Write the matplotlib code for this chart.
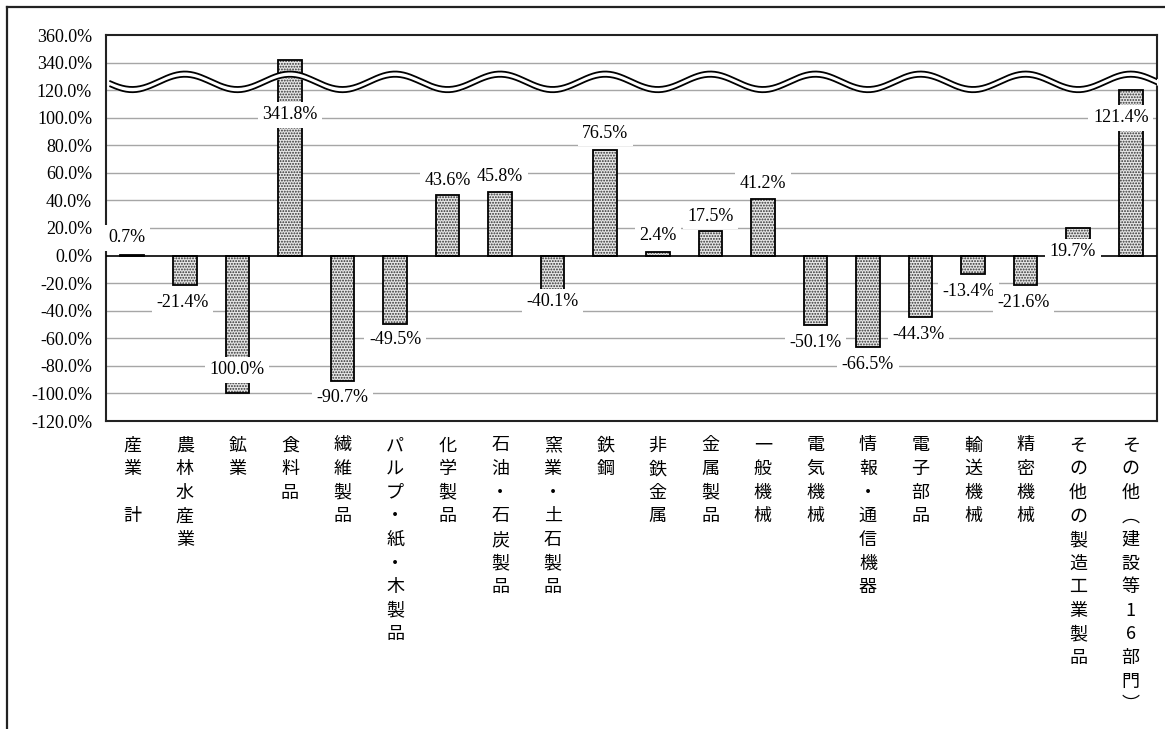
import numpy as np
import matplotlib
matplotlib.use("Agg")
import matplotlib.pyplot as plt
from matplotlib.lines import Line2D
import matplotlib.transforms as mtransforms

plt.rcParams['font.family'] = ['Liberation Serif', 'Noto Sans CJK JP', 'DejaVu Sans']
plt.rcParams['hatch.linewidth'] = 0.9

# --- data ---
categories = ['産業　計', '農林水産業', '鉱業', '食料品', '繊維製品',
              'パルプ・紙・木製品', '化学製品', '石油・石炭製品', '窯業・土石製品', '鉄鋼',
              '非鉄金属', '金属製品', '一般機械', '電気機械', '情報・通信機器',
              '電子部品', '輸送機械', '精密機械', 'その他の製造工業製品', 'その他（建設等16部門）']
values = [0.7, -21.4, -100.0, 341.8, -90.7,
          -49.5, 43.6, 45.8, -40.1, 76.5,
          2.4, 17.5, 41.2, -50.1, -66.5,
          -44.3, -13.4, -21.6, 19.7, 121.4]
value_labels = ['0.7%', '-21.4%', '100.0%', '341.8%', '-90.7%',
                '-49.5%', '43.6%', '45.8%', '-40.1%', '76.5%',
                '2.4%', '17.5%', '41.2%', '-50.1%', '-66.5%',
                '-44.3%', '-13.4%', '-21.6%', '19.7%', '121.4%']
yticks = [-120, -100, -80, -60, -40, -20, 0, 20, 40, 60, 80, 100, 120, 340, 360]

# where the (manually moved) data labels sit: y in chart units, x shift in bar widths
label_y = [12.8, -34.4, -83, 102, -103.3, -61.2, 54.8, 57, -33.6, 88.8,
           14.2, 28.7, 52.6, -62.7, -79.3, -57.6, -26.4, -34.4, 2.6, 99.8]
label_dx = [-0.11, -0.04, 0, 0, 0, 0, 0, 0, 0, 0,
            0, 0, 0, 0, 0, -0.04, -0.09, -0.04, -0.1, -0.19]


# broken axis: 120..340 squeezed into 20 units
def fwd(v):
    v = np.asarray(v, dtype=float)
    return np.where(v <= 120, v, np.where(v >= 340, v - 200, 120 + (v - 120) * 20 / 220))


def inv(p):
    p = np.asarray(p, dtype=float)
    return np.where(p <= 120, p, np.where(p >= 140, p + 200, 120 + (p - 120) * 220 / 20))


fig = plt.figure(figsize=(11.65, 7.29), dpi=100)
ax = fig.add_axes([106 / 1165, 1 - 421 / 729, (1157 - 106) / 1165, (421 - 35) / 729])
ax.set_yscale('function', functions=(fwd, inv))
ax.set_ylim(-120, 360)
x = np.arange(len(categories))
ax.set_xlim(-0.5, len(categories) - 0.5)

# grid
for t in yticks[1:-1]:
    if t != 0:
        ax.axhline(t, color='#a6a6a6', lw=1.0, zorder=1)
ax.axhline(0, color='black', lw=1.2, zorder=3)

# bars: stipple then black outline
ax.bar(x, values, width=0.45, facecolor='#e6e6e6', edgecolor='#303030',
       hatch='......', lw=0, zorder=2)
ax.bar(x, values, width=0.45, fill=False, edgecolor='black', lw=1.3, zorder=2.5)

# wavy break band (axes fraction in y)
xx = np.linspace(-0.42, len(categories) - 0.5, 600)
upper = (127.9 - 5.6 * np.cos(np.pi * xx) + 120) / 280
lower = (124.1 - 5.6 * np.cos(np.pi * xx) + 120) / 280
trans = mtransforms.blended_transform_factory(ax.transData, ax.transAxes)
ax.fill_between(xx, lower, upper, color='white', transform=trans, zorder=4)
ax.plot(xx, upper, color='black', lw=1.3, transform=trans, zorder=4.5)
ax.plot(xx, lower, color='black', lw=1.3, transform=trans, zorder=4.5)

# data labels
for i, (txt, ly, dx) in enumerate(zip(value_labels, label_y, label_dx)):
    ax.text(i + dx, ly, txt, ha='center', va='center', fontsize=13, zorder=5 + i * 0.01,
            bbox=dict(boxstyle='square,pad=0.25', facecolor='white', edgecolor='none'))

# axes styling
ax.set_yticks(yticks)
ax.set_yticklabels([f'{t:.1f}%' for t in yticks], fontsize=13)
ax.tick_params(axis='y', length=0, pad=10)
ax.set_xticks([])
for s in ax.spines.values():
    s.set_linewidth(1.5)
    s.set_color('#222222')

# vertical category labels, one character per line
vert = str.maketrans({'（': '︵', '）': '︶'})
for i, name in enumerate(categories):
    for k, ch in enumerate(name.translate(vert)):
        ax.annotate(ch, xy=(i, 0), xycoords=('data', 'axes fraction'),
                    xytext=(0, -17.6 - 17.0 * k), textcoords='offset points',
                    ha='center', va='center', fontsize=13,
                    family=['Noto Sans CJK JP', 'DejaVu Sans'])

# outer frame (left and top edges visible)
fig.add_artist(Line2D([7 / 1165, 7 / 1165], [0, 1 - 7 / 729], color='#222222', lw=1.6))
fig.add_artist(Line2D([7 / 1165, 1], [1 - 7 / 729, 1 - 7 / 729], color='#222222', lw=1.6))

fig.savefig('out.png', dpi=100, facecolor='white')
